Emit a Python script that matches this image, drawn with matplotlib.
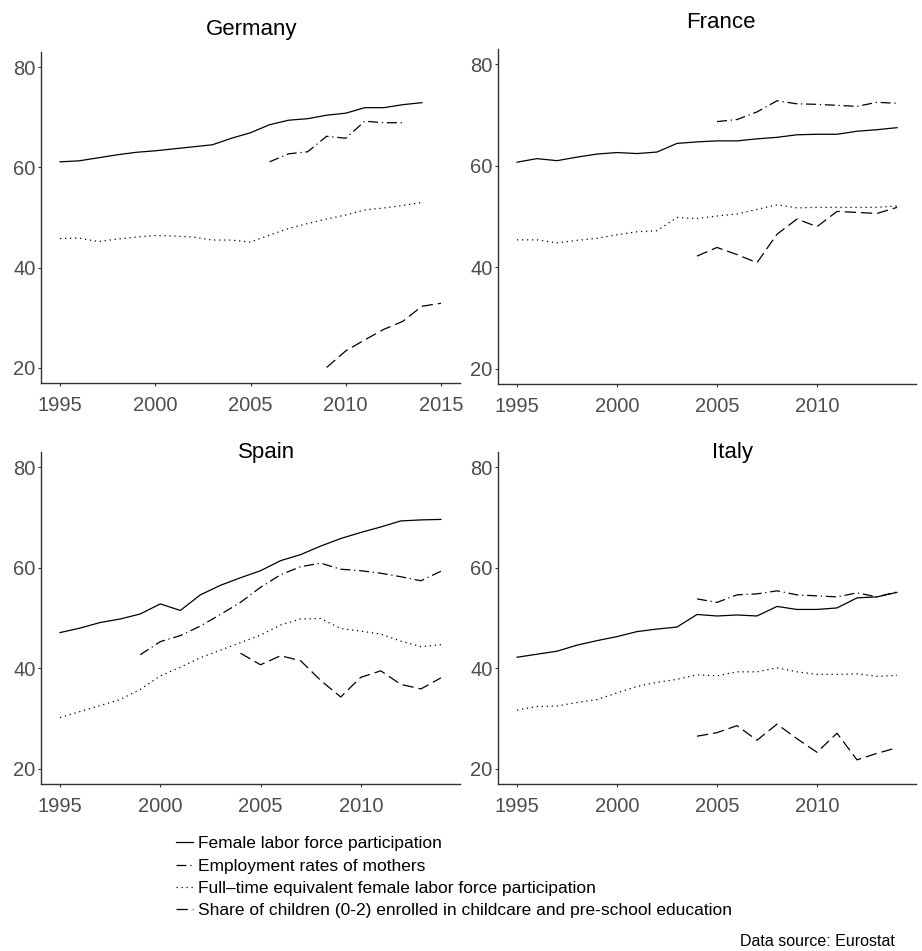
import matplotlib.pyplot as plt

plt.rcParams['font.family'] = ['Liberation Sans', 'DejaVu Sans']

# data (Eurostat)
years = list(range(1995, 2016))

de_flfp = [61.1, 61.3, 61.9, 62.5, 63.0, 63.3, 63.7, 64.1, 64.5, 65.8, 66.9,
           68.5, 69.4, 69.7, 70.4, 70.8, 71.9, 71.9, 72.5, 72.9]
de_mothers = [61.1, 62.7, 63.1, 66.2, 65.8, 69.2, 68.9, 68.9]          # 2006-2013
de_fte = [45.8, 45.9, 45.2, 45.7, 46.1, 46.4, 46.3, 46.1, 45.5, 45.5, 45.1,
          46.5, 47.8, 48.8, 49.7, 50.5, 51.5, 51.9, 52.4, 53.0]
de_childcare = [20.1, 23.4, 25.6, 27.7, 29.3, 32.3, 32.9]              # 2009-2015

fr_flfp = [60.7, 61.4, 61.0, 61.7, 62.3, 62.6, 62.4, 62.7, 64.4, 64.7, 64.9,
           64.9, 65.3, 65.6, 66.1, 66.2, 66.2, 66.8, 67.1, 67.5]
fr_mothers = [68.7, 69.1, 70.6, 72.8, 72.2, 72.1, 71.9, 71.7, 72.5, 72.3]  # 2005-2014
fr_fte = [45.4, 45.4, 44.8, 45.3, 45.7, 46.4, 47.0, 47.2, 49.8, 49.6, 50.1,
          50.5, 51.4, 52.3, 51.7, 51.8, 51.8, 51.8, 51.8, 52.1]
fr_childcare = [42.2, 43.9, 42.5, 40.9, 46.5, 49.5, 48.0, 51.0, 50.8, 50.6, 51.8]  # 2004-2014

es_flfp = [47.1, 48.0, 49.1, 49.8, 50.8, 52.8, 51.5, 54.6, 56.5, 58.0, 59.4,
           61.4, 62.6, 64.3, 65.8, 67.0, 68.1, 69.3, 69.5, 69.6]
es_mothers = [42.7, 45.3, 46.5, 48.4, 50.7, 53.1, 56.1, 58.6, 60.2, 60.9,
              59.7, 59.4, 58.9, 58.2, 57.4, 59.3]                          # 1999-2014
es_fte = [30.2, 31.4, 32.6, 33.8, 35.8, 38.5, 40.2, 42.1, 43.6, 45.1, 46.6,
          48.6, 49.8, 49.9, 47.9, 47.4, 46.8, 45.4, 44.3, 44.7]
es_childcare = [43.0, 40.7, 42.5, 41.5, 37.6, 34.3, 38.2, 39.5, 36.8, 35.9, 38.1]  # 2004-2014

it_flfp = [42.2, 42.8, 43.4, 44.6, 45.5, 46.3, 47.3, 47.8, 48.2, 50.7, 50.4,
           50.6, 50.4, 52.3, 51.7, 51.7, 52.0, 54.0, 54.2, 55.1]
it_mothers = [53.8, 53.1, 54.6, 54.8, 55.4, 54.6, 54.4, 54.2, 55.0, 54.2, 55.2]  # 2004-2014
it_fte = [31.7, 32.4, 32.5, 33.2, 33.8, 35.1, 36.4, 37.2, 37.8, 38.7, 38.5,
          39.3, 39.3, 40.1, 39.3, 38.8, 38.8, 38.9, 38.4, 38.6]
it_childcare = [26.5, 27.2, 28.6, 25.7, 28.9, 26.0, 23.3, 27.1, 21.8, 23.1, 24.2]  # 2004-2014

series_labels = ['Female labor force participation',
                 'Employment rates of mothers',
                 'Full\u2013time equivalent female labor force participation',
                 'Share of children (0-2) enrolled in childcare and pre-school education']

panels = [
    ('Germany', de_flfp, (2006, de_mothers), de_fte, (2009, de_childcare)),
    ('France', fr_flfp, (2005, fr_mothers), fr_fte, (2004, fr_childcare)),
    ('Spain', es_flfp, (1999, es_mothers), es_fte, (2004, es_childcare)),
    ('Italy', it_flfp, (2004, it_mothers), it_fte, (2004, it_childcare)),
]

styles = ['-', (0, (8, 3, 1, 3)), (0, (1, 3)), (0, (9, 4))]

# axes boxes in pixels: left, top, right, bottom
W, H = 922, 951
boxes = [(41, 52, 460, 383), (498, 49, 916, 384),
         (41, 452, 460, 784), (498, 452, 916, 784)]
title_pos = [(252, 29), (721, 23), (267, 453), (732, 453)]

fig = plt.figure(figsize=(W / 100, H / 100), dpi=100)

handles = []
for i, (name, flfp, moth, fte, child) in enumerate(panels):
    l, t, r, b = boxes[i]
    ax = fig.add_axes([l / W, 1 - b / H, (r - l) / W, (b - t) / H])
    h1, = ax.plot(years[:len(flfp)], flfp, color='black', lw=0.9, ls=styles[0])
    s = moth[0] - 1995
    h2, = ax.plot(years[s:s + len(moth[1])], moth[1], color='black', lw=0.9, ls=styles[1])
    h3, = ax.plot(years[:len(fte)], fte, color='black', lw=0.9, ls=styles[2])
    s = child[0] - 1995
    h4, = ax.plot(years[s:s + len(child[1])], child[1], color='black', lw=0.9, ls=styles[3])
    if i == 0:
        handles = [h1, h2, h3, h4]

    ax.set_ylim(17, 83)
    ax.set_yticks([20, 40, 60, 80])
    if name == 'Germany':
        ax.set_xticks([1995, 2000, 2005, 2010, 2015])
    else:
        ax.set_xticks([1995, 2000, 2005, 2010])
    for sp in ['top', 'right']:
        ax.spines[sp].set_visible(False)
    for sp in ['left', 'bottom']:
        ax.spines[sp].set_color('#333333')
        ax.spines[sp].set_linewidth(1.0)
    ax.tick_params(axis='both', colors='#333333', length=2.5, width=0.8,
                   labelsize=14.5, labelcolor='#4D4D4D')
    ax.tick_params(axis='y', pad=1.5)
    ax.tick_params(axis='x', pad=7)

    tx, ty = title_pos[i]
    fig.text(tx / W, 1 - ty / H, name, fontsize=16, ha='center', va='center', color='black')

leg = fig.legend(handles, series_labels, loc='upper left',
                 bbox_to_anchor=(176 / W, 1 - 836 / H), frameon=False,
                 fontsize=12.5, handlelength=1.0, handletextpad=0.25,
                 labelspacing=0.42, borderpad=0, borderaxespad=0)

fig.text(895 / W, 1 - 942 / H, 'Data source: Eurostat', fontsize=11.5,
         ha='right', va='center', color='black')

fig.savefig('out.png', dpi=100)
